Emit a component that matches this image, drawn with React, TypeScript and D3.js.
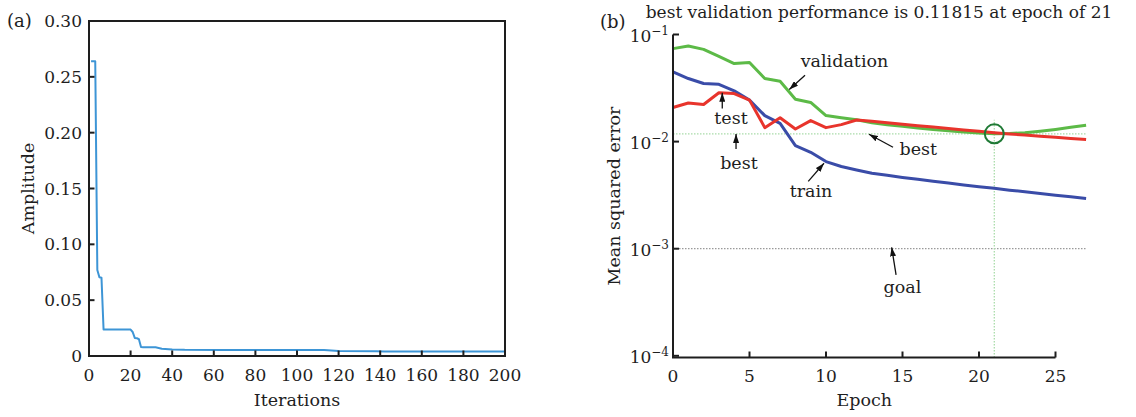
import React from "react";
import * as d3 from "d3";

// Panel (a): amplitude versus iteration (step-like convergence curve)
const iterations = [1, 3, 4, 5, 6, 7, 20, 21, 22, 23, 24, 25, 26, 32, 35, 40, 46, 64, 113, 120, 138, 142, 200];
const amplitude = [0.264, 0.264, 0.077, 0.0705, 0.07, 0.0237, 0.0237, 0.0215, 0.0162, 0.016, 0.015, 0.008, 0.0078, 0.0078, 0.0065, 0.0058, 0.0055, 0.0054, 0.0053, 0.0045, 0.0042, 0.004, 0.004];
const iterTicks = [0, 20, 40, 60, 80, 100, 120, 140, 160, 180, 200];
const ampTicks = [0, 0.05, 0.1, 0.15, 0.2, 0.25, 0.3];

// Panel (b): network training performance per epoch
const epochs = [0, 1, 2, 3, 4, 5, 6, 7, 8, 9, 10, 11, 12, 13, 14, 15, 16, 17, 18, 19, 20, 21, 22, 23, 24, 25, 26, 27];
const trainMSE = [0.0448, 0.0388, 0.0349, 0.0343, 0.0298, 0.0244, 0.0175, 0.0148, 0.00918, 0.00795, 0.00651, 0.00585, 0.00544, 0.00507, 0.00484, 0.00463, 0.00445, 0.00427, 0.0041, 0.00394, 0.00379, 0.00366, 0.00352, 0.0034, 0.00327, 0.00316, 0.00305, 0.00295];
const validationMSE = [0.0738, 0.0782, 0.0726, 0.0625, 0.0535, 0.0547, 0.0388, 0.0366, 0.0249, 0.0232, 0.0175, 0.0167, 0.016, 0.015, 0.0144, 0.0139, 0.0134, 0.013, 0.0126, 0.0123, 0.012, 0.011815, 0.0119, 0.0121, 0.0125, 0.013, 0.0136, 0.0142];
const testMSE = [0.0208, 0.0229, 0.0222, 0.0286, 0.0281, 0.0244, 0.0135, 0.0167, 0.0131, 0.0157, 0.0135, 0.0144, 0.0159, 0.0155, 0.015, 0.01452, 0.01409, 0.01368, 0.01327, 0.01286, 0.01248, 0.01211, 0.0118, 0.0115, 0.01124, 0.01096, 0.01071, 0.01045];
const bestEpoch = 21;
const bestValidation = 0.011815;
const goalMSE = 0.001;
const epochTicks = [0, 5, 10, 15, 20, 25];
const mseTickExponents = [-1, -2, -3, -4];

const FONT = "'DejaVu Serif', 'Liberation Serif', serif";
const INK = "#1e1e1e";
const C_TRAIN = "#3a4ca8";
const C_VAL = "#5cba47";
const C_TEST = "#e8342c";
const C_AMP = "#3d95d6";

// Text callouts in data coordinates: label baseline point and arrow tail/head
const callouts = [
  { text: "validation", at: [11.21, 0.0502], tail: [8.63, 0.0416], head: [7.6, 0.0307] },
  { text: "test", at: [3.79, 0.01449], tail: [3.22, 0.0204], head: [3.22, 0.0286] },
  { text: "best", at: [4.31, 0.00552], tail: [4.12, 0.00853], head: [4.12, 0.0118] },
  { text: "train", at: [9.02, 0.00301], tail: [8.84, 0.00425], head: [9.87, 0.00628] },
  { text: "best", at: [16.03, 0.00746], tail: [14.38, 0.00885], head: [12.81, 0.0117] },
  { text: "goal", at: [15.0, 0.000385], tail: [14.58, 0.00057], head: [14.29, 0.00103] },
];

export default function App() {
  // ----- panel (a) scales
  const xA = d3.scaleLinear().domain([0, 200]).range([89, 505]);
  const yA = d3.scaleLinear().domain([0, 0.3]).range([356, 21]);
  const ampLine = d3
    .line<number>()
    .x((_, i) => xA(iterations[i]))
    .y((d) => yA(d));

  // ----- panel (b) scales
  const xB = d3.scaleLinear().domain([0, 27]).range([673, 673 + 27 * 15.3]);
  const yB = d3.scaleLog().domain([Math.pow(10, -4.0158), 0.1]).range([357.5, 34.5]);
  const mseLine = (vals: number[]) =>
    d3
      .line<number>()
      .x((_, i) => xB(epochs[i]))
      .y((d) => yB(d))(vals) || "";

  const axB = { left: xB(0), bottom: yB.range()[0], top: yB(0.1), right: xB(25) };
  const bx = xB(bestEpoch);
  const by = yB(bestValidation);

  return (
    <svg
      width={1136}
      height={417}
      viewBox="0 0 1136 417"
      style={{ position: "absolute", left: 0, top: 0, background: "#fff" }}
      fontFamily={FONT}
    >
      <defs>
        <marker
          id="head"
          viewBox="0 0 9 6"
          refX={9}
          refY={3}
          markerWidth={9}
          markerHeight={6}
          markerUnits="userSpaceOnUse"
          orient="auto"
        >
          <path d="M0,0 L9,3 L0,6 z" fill="#111" />
        </marker>
      </defs>
      <rect x={0} y={0} width={1136} height={417} fill="#fff" />

      {/* ================= panel (a) ================= */}
      <text x={7} y={26.5} fontSize={18} fill={INK}>(a)</text>
      <path d={ampLine(amplitude) || ""} fill="none" stroke={C_AMP} strokeWidth={2} strokeLinejoin="round" />
      <rect
        x={xA(0)}
        y={yA(0.3)}
        width={xA(200) - xA(0)}
        height={yA(0) - yA(0.3)}
        fill="none"
        stroke={INK}
        strokeWidth={2}
      />
      {iterTicks.map((t) => (
        <g key={"ia" + t}>
          <line x1={xA(t)} x2={xA(t)} y1={yA(0)} y2={yA(0) - 5.5} stroke={INK} strokeWidth={2} />
          <text x={xA(t)} y={381} fontSize={17} textAnchor="middle" fill={INK}>
            {t}
          </text>
        </g>
      ))}
      {ampTicks.map((t) => (
        <g key={"aa" + t}>
          <line x1={xA(0)} x2={xA(0) + 5.5} y1={yA(t)} y2={yA(t)} stroke={INK} strokeWidth={2} />
          <text x={82} y={yA(t) + 6} fontSize={17} textAnchor="end" fill={INK}>
            {t === 0 ? "0" : d3.format(".2f")(t)}
          </text>
        </g>
      ))}
      <text x={(xA(0) + xA(200)) / 2} y={406} fontSize={17.5} textAnchor="middle" fill={INK}>
        Iterations
      </text>
      <text
        transform={`translate(34,${(yA(0) + yA(0.3)) / 2}) rotate(-90)`}
        fontSize={17.5}
        textAnchor="middle"
        fill={INK}
      >
        Amplitude
      </text>

      {/* ================= panel (b) ================= */}
      <text x={600} y={28} fontSize={18} fill={INK}>(b)</text>
      <text x={879} y={17.5} fontSize={17} textAnchor="middle" fill={INK}>
        best validation performance is 0.11815 at epoch of 21
      </text>

      {/* goal and best guide lines */}
      <line
        x1={axB.left}
        x2={xB(27)}
        y1={yB(goalMSE)}
        y2={yB(goalMSE)}
        stroke="#9a9a9a"
        strokeWidth={1.2}
        strokeDasharray="1.5 1.5"
      />
      <line
        x1={axB.left}
        x2={xB(27)}
        y1={by}
        y2={by}
        stroke="#a9dca9"
        strokeWidth={1.3}
        strokeDasharray="1.5 1.5"
      />
      <line
        x1={bx}
        x2={bx}
        y1={axB.bottom}
        y2={by - 14}
        stroke="#a9dca9"
        strokeWidth={1.3}
        strokeDasharray="1.5 1.5"
      />

      {/* performance curves */}
      <path d={mseLine(trainMSE)} fill="none" stroke={C_TRAIN} strokeWidth={3} strokeLinejoin="round" />
      <path d={mseLine(validationMSE)} fill="none" stroke={C_VAL} strokeWidth={3} strokeLinejoin="round" />
      <path d={mseLine(testMSE)} fill="none" stroke={C_TEST} strokeWidth={3} strokeLinejoin="round" />

      {/* best validation marker */}
      <circle cx={bx} cy={by} r={9.5} fill="none" stroke="#1f7a35" strokeWidth={2} />

      {/* axes */}
      <line x1={axB.left} x2={axB.left} y1={axB.bottom} y2={axB.top} stroke={INK} strokeWidth={2} />
      <line x1={axB.left - 1} x2={axB.right} y1={axB.bottom} y2={axB.bottom} stroke={INK} strokeWidth={2} />
      {epochTicks.map((t) => (
        <g key={"eb" + t}>
          <line x1={xB(t)} x2={xB(t)} y1={axB.bottom} y2={axB.bottom - 6} stroke={INK} strokeWidth={2} />
          <text x={xB(t)} y={382} fontSize={17} textAnchor="middle" fill={INK}>
            {t}
          </text>
        </g>
      ))}
      {mseTickExponents.map((p) => {
        const y = yB(Math.pow(10, p));
        return (
          <g key={"mb" + p}>
            <line x1={axB.left} x2={axB.left + 6} y1={y} y2={y} stroke={INK} strokeWidth={2} />
            <text x={669} y={y + 7} fontSize={17} textAnchor="end" fill={INK}>
              10
              <tspan fontSize={12} dy={-7}>
                {"\u2212" + Math.abs(p)}
              </tspan>
            </text>
          </g>
        );
      })}
      <text x={(xB(0) + xB(25)) / 2} y={406} fontSize={17.5} textAnchor="middle" fill={INK}>
        Epoch
      </text>
      <text
        transform={`translate(620,${(axB.top + axB.bottom) / 2}) rotate(-90)`}
        fontSize={17.5}
        textAnchor="middle"
        fill={INK}
      >
        Mean squared error
      </text>

      {/* callouts */}
      {callouts.map((c, i) => (
        <g key={"c" + i}>
          <line
            x1={xB(c.tail[0])}
            y1={yB(c.tail[1])}
            x2={xB(c.head[0])}
            y2={yB(c.head[1])}
            stroke="#111"
            strokeWidth={1.3}
            markerEnd="url(#head)"
          />
          <text x={xB(c.at[0])} y={yB(c.at[1])} fontSize={17.5} textAnchor="middle" fill={INK}>
            {c.text}
          </text>
        </g>
      ))}
    </svg>
  );
}
